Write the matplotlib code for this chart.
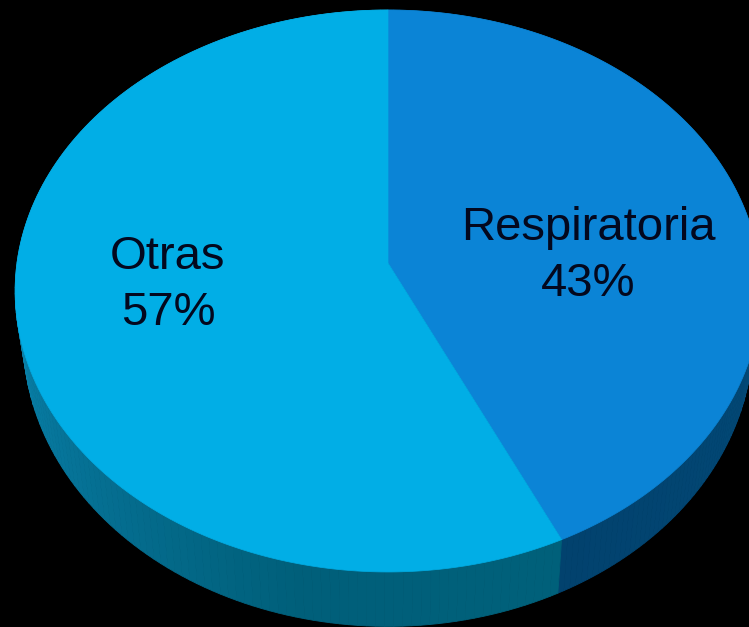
import numpy as np
import matplotlib
matplotlib.use("Agg")
import matplotlib.pyplot as plt
from matplotlib.colors import LinearSegmentedColormap

labels = ["Respiratoria", "Otras"]
shares = [43, 57]

top_colors = ["#0b84d6", "#01aee6"]
side_colors = [
    [(0, "#03507e"), (0.5, "#034c7a"), (1, "#02426e")],
    [(0, "#00607a"), (0.18, "#005f7a"), (0.35, "#056f92"), (0.56, "#0a86b0"), (1, "#0a86b0")],
]

# perspective of the tilted disc, in pixels of the picture
cx = 388
persp = 0.0996
top_rim = (263, 371, -252)
low_rim = (309, 363, -255)


def project(theta, rim):
    # theta is clockwise from the top of the disc
    cy, rx, ry = rim
    u, v = np.sin(theta), np.cos(theta)
    w = 1 + persp * v
    return cx + rx * u / w, (cy + ry * v) / w


plt.rcParams["font.family"] = ["Liberation Sans", "DejaVu Sans"]
fig = plt.figure(figsize=(7.49, 6.27), dpi=100, facecolor="black")
ax = fig.add_axes([0, 0, 1, 1])
ax.set_xlim(0, 749)
ax.set_ylim(627, 0)
ax.axis("off")

edges = np.cumsum([0] + shares) / sum(shares) * 2 * np.pi

# side wall, drawn in thin strips so that the shading runs along the rim
for i in range(len(shares)):
    cmap = LinearSegmentedColormap.from_list("side", side_colors[i])
    steps = np.linspace(edges[i], edges[i + 1], 161)
    for j in range(160):
        t0, t1 = steps[j], steps[j + 1]
        x0, y0 = project(t0, top_rim)
        x1, y1 = project(t1, top_rim)
        x2, y2 = project(t1, low_rim)
        x3, y3 = project(t0, low_rim)
        c = cmap(j / 159)
        ax.fill([x0, x1, x2, x3], [y0, y1, y2, y3], color=c, lw=0.6, zorder=1)

# top face
for i in range(len(shares)):
    t = np.linspace(edges[i], edges[i + 1], 300)
    x, y = project(t, top_rim)
    ax.fill(np.r_[cx, x], np.r_[top_rim[0], y], color=top_colors[i], lw=0.5, zorder=2)

ax.text(588, 256, f"{labels[0]}\n{shares[0]}%", ha="center", va="center",
        fontsize=34, color="#03081e", linespacing=1.37, zorder=3)
ax.text(168, 285, f"{labels[1]}\n{shares[1]}%", ha="center", va="center",
        fontsize=34, color="#03081e", linespacing=1.37, zorder=3)

fig.savefig("out.png", dpi=100, facecolor="black")
